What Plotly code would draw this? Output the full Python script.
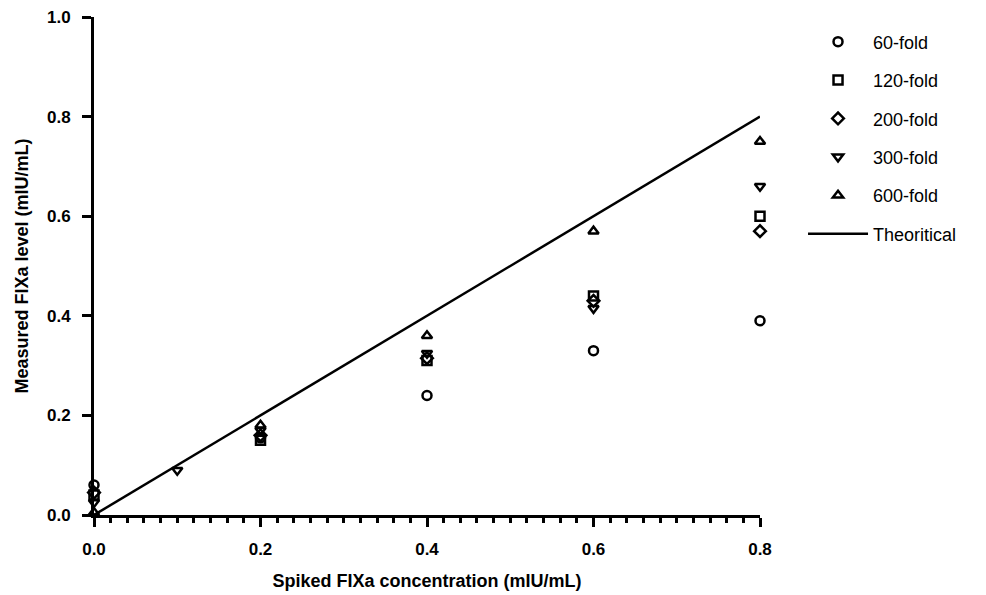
import plotly.graph_objects as go

series_names = ["60-fold", "120-fold", "200-fold", "300-fold", "600-fold"]
symbols = ["circle-open", "square-open", "diamond-open", "triangle-down-open", "triangle-up-open"]

x_60 = [0.0, 0.2, 0.4, 0.6, 0.8]
y_60 = [0.06, 0.155, 0.24, 0.33, 0.39]
x_120 = [0.0, 0.2, 0.4, 0.6, 0.8]
y_120 = [0.04, 0.15, 0.31, 0.44, 0.60]
x_200 = [0.0, 0.2, 0.4, 0.6, 0.8]
y_200 = [0.045, 0.16, 0.315, 0.43, 0.57]
x_300 = [0.0, 0.1, 0.2, 0.4, 0.6, 0.8]
y_300 = [0.025, 0.09, 0.17, 0.325, 0.415, 0.66]
x_600 = [0.0, 0.2, 0.4, 0.6, 0.8]
y_600 = [0.005, 0.18, 0.36, 0.57, 0.75]
x_theo = [0.0, 0.8]
y_theo = [0.0, 0.8]

x_ticks = [0, 0.2, 0.4, 0.6, 0.8]
x_ticklabels = ["0.0", "0.2", "0.4", "0.6", "0.8"]
y_ticks = [0, 0.2, 0.4, 0.6, 0.8, 1.0]
y_ticklabels = ["0.0", "0.2", "0.4", "0.6", "0.8", "1.0"]

xs = [x_60, x_120, x_200, x_300, x_600]
ys = [y_60, y_120, y_200, y_300, y_600]

FONT = "Liberation Sans, Arial, Helvetica, sans-serif"

fig = go.Figure()
for name, sym, xv, yv in zip(series_names, symbols, xs, ys):
    fig.add_trace(go.Scatter(
        x=xv, y=yv, mode="markers", name=name, legendgroup=name,
        marker=dict(symbol=sym, size=9, color="black", line=dict(color="black", width=2.5)),
        cliponaxis=False,
    ))
fig.add_trace(go.Scatter(
    x=x_theo, y=y_theo, mode="lines", name="Theoritical", legendgroup="theo",
    line=dict(color="black", width=2.5), cliponaxis=False,
))

fig.update_layout(
    width=986, height=595,
    margin=dict(l=94, r=226, t=17, b=80),
    plot_bgcolor="white", paper_bgcolor="white",
    font=dict(family=FONT, color="black"),
    legend=dict(
        x=1.0646, xanchor="left", xref="paper", y=0.987, yanchor="top",
        font=dict(size=18, family=FONT, color="black"),
        tracegroupgap=12, traceorder="grouped",
        itemwidth=60, bgcolor="rgba(0,0,0,0)",
    ),
    xaxis=dict(
        range=[0, 0.8], showgrid=False, zeroline=False, automargin=False,
        showline=True, linecolor="black", linewidth=3,
        ticks="outside", ticklen=9, tickwidth=3, tickcolor="black",
        tickvals=x_ticks, ticktext=["<b>%s</b>" % t for t in x_ticklabels],
        tickfont=dict(size=17, family=FONT, color="black"),
        ticklabelstandoff=8,
        minor=dict(dtick=0.02, ticks="outside", ticklen=5, tickwidth=3, tickcolor="black", showgrid=False),
        title=dict(text="<b>Spiked FIXa concentration (mIU/mL)</b>", font=dict(size=18, family=FONT), standoff=16),
    ),
    yaxis=dict(
        range=[0, 1.0], showgrid=False, zeroline=False, automargin=False,
        showline=True, linecolor="black", linewidth=3,
        ticks="outside", ticklen=9, tickwidth=3, tickcolor="black",
        tickvals=y_ticks, ticktext=["<b>%s</b>" % t for t in y_ticklabels],
        tickfont=dict(size=17, family=FONT, color="black"),
        ticklabelstandoff=8,
        title=dict(text="<b>Measured FIXa level (mIU/mL)</b>", font=dict(size=18, family=FONT), standoff=14),
    ),
)

fig.write_html("out.html")
